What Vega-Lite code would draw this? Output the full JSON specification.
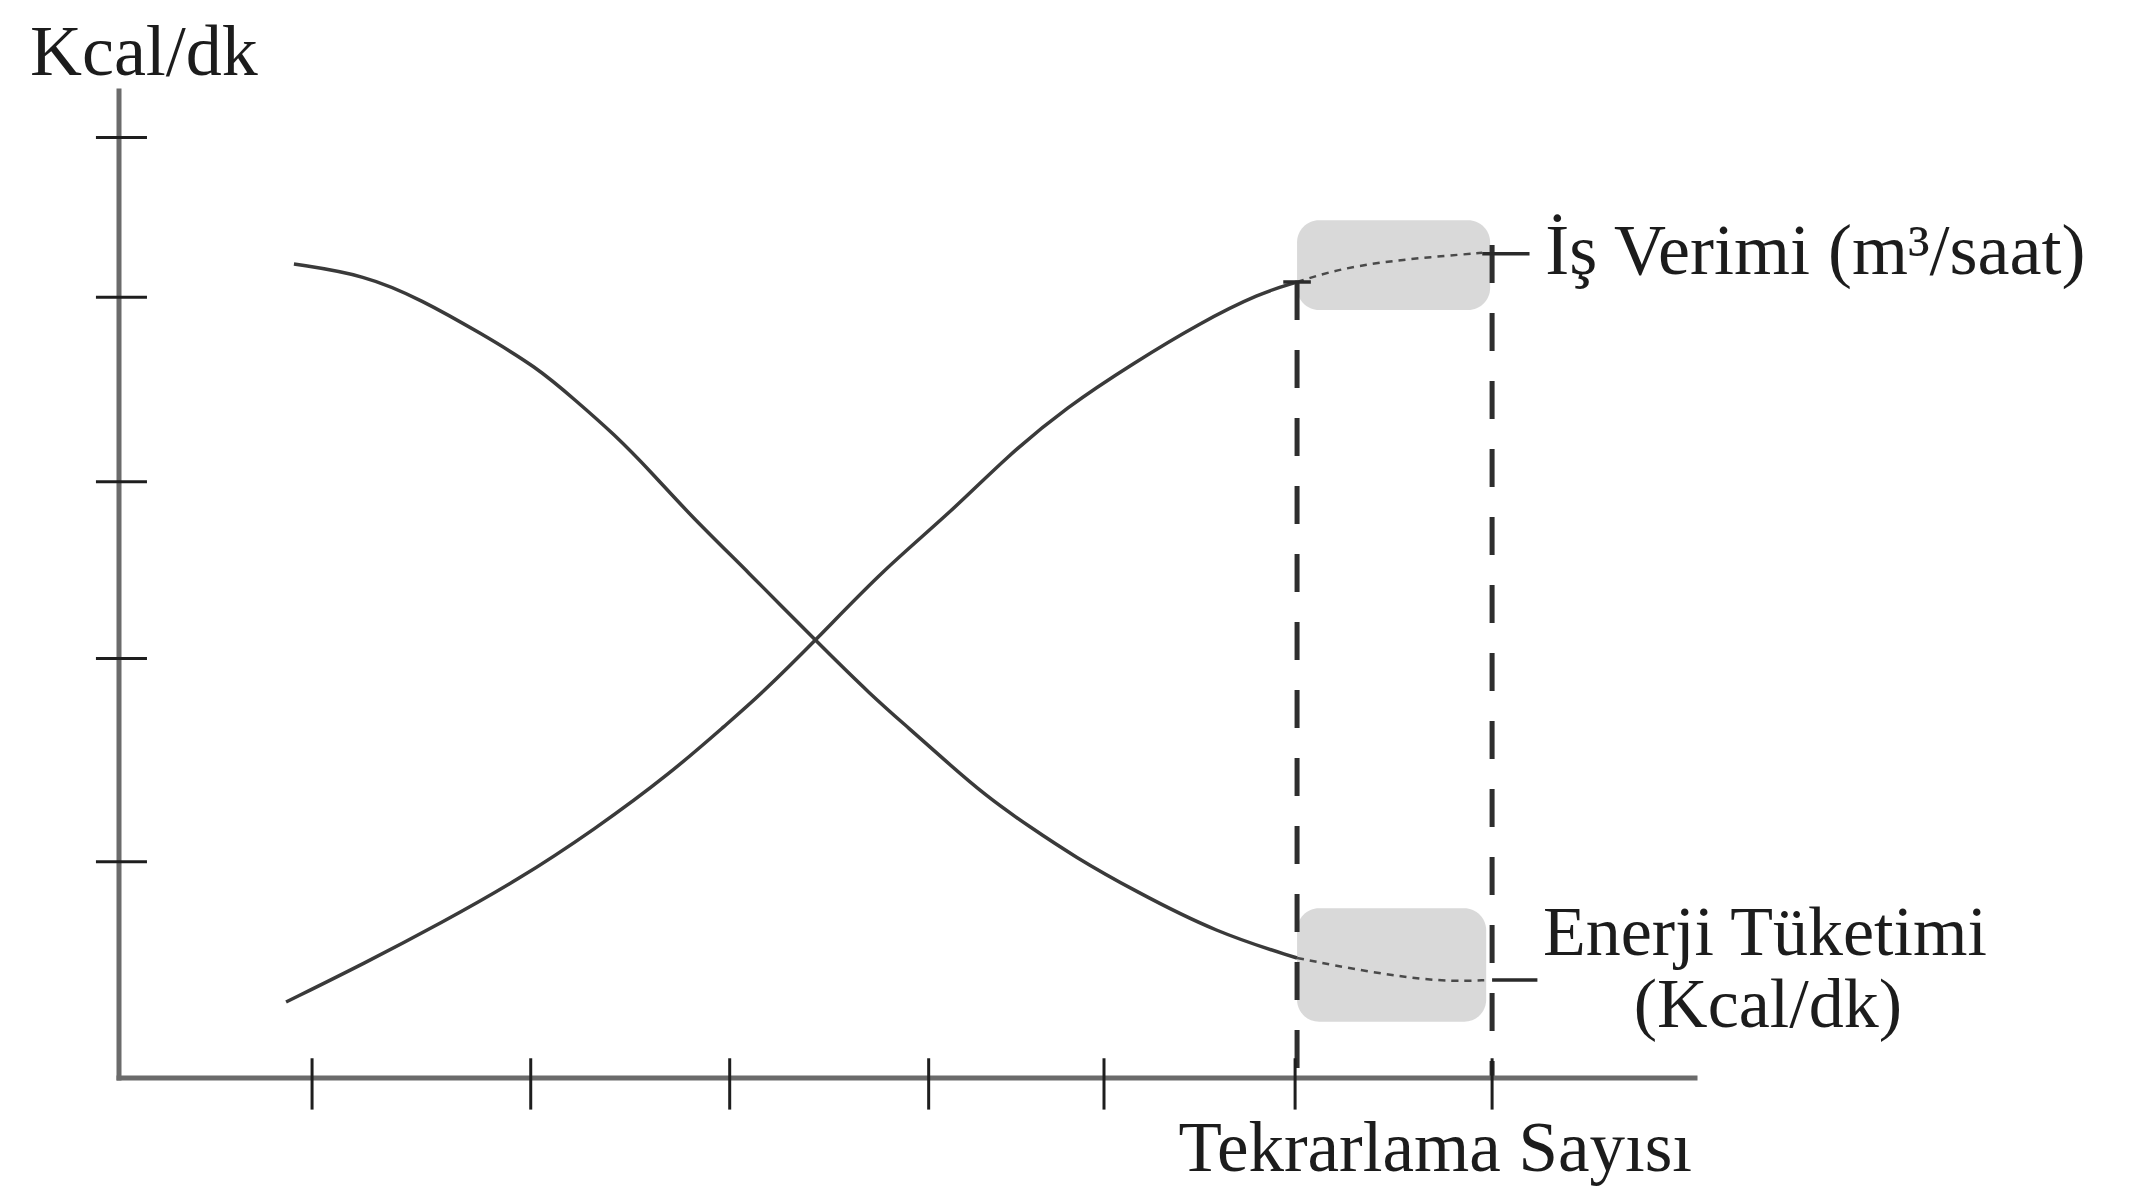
{
  "$schema": "https://vega.github.io/schema/vega-lite/v6.json",
  "width": 1576,
  "height": 987,
  "autosize": {"type": "none"},
  "padding": {"left": 119, "top": 91, "right": 453, "bottom": 113},
  "background": "white",
  "config": {"view": {"stroke": null}, "font": "Liberation Serif"},
  "datasets": {
    "curves": [
      {"series": "Enerji Tüketimi", "x": 0.888, "y": 8.247},
      {"series": "Enerji Tüketimi", "x": 1.249, "y": 8.136},
      {"series": "Enerji Tüketimi", "x": 1.538, "y": 7.882},
      {"series": "Enerji Tüketimi", "x": 1.832, "y": 7.55},
      {"series": "Enerji Tüketimi", "x": 2.122, "y": 7.2},
      {"series": "Enerji Tüketimi", "x": 2.315, "y": 6.869},
      {"series": "Enerji Tüketimi", "x": 2.513, "y": 6.525},
      {"series": "Enerji Tüketimi", "x": 2.706, "y": 6.13},
      {"series": "Enerji Tüketimi", "x": 2.898, "y": 5.704},
      {"series": "Enerji Tüketimi", "x": 3.193, "y": 5.127},
      {"series": "Enerji Tüketimi", "x": 3.528, "y": 4.448},
      {"series": "Enerji Tüketimi", "x": 3.822, "y": 3.87},
      {"series": "Enerji Tüketimi", "x": 4.02, "y": 3.526},
      {"series": "Enerji Tüketimi", "x": 4.173, "y": 3.252},
      {"series": "Enerji Tüketimi", "x": 4.406, "y": 2.847},
      {"series": "Enerji Tüketimi", "x": 4.619, "y": 2.55},
      {"series": "Enerji Tüketimi", "x": 4.853, "y": 2.239},
      {"series": "Enerji Tüketimi", "x": 5.147, "y": 1.905},
      {"series": "Enerji Tüketimi", "x": 5.574, "y": 1.469},
      {"series": "Enerji Tüketimi", "x": 5.98, "y": 1.216},
      {"series": "İş Verimi", "x": 0.848, "y": 0.77},
      {"series": "İş Verimi", "x": 1.249, "y": 1.165},
      {"series": "İş Verimi", "x": 1.635, "y": 1.57},
      {"series": "İş Verimi", "x": 2.025, "y": 2.006},
      {"series": "İş Verimi", "x": 2.411, "y": 2.513},
      {"series": "İş Verimi", "x": 2.802, "y": 3.09},
      {"series": "İş Verimi", "x": 3.091, "y": 3.597},
      {"series": "İş Verimi", "x": 3.249, "y": 3.87},
      {"series": "İş Verimi", "x": 3.543, "y": 4.448},
      {"series": "İş Verimi", "x": 3.878, "y": 5.147},
      {"series": "İş Verimi", "x": 4.218, "y": 5.724},
      {"series": "İş Verimi", "x": 4.508, "y": 6.3},
      {"series": "İş Verimi", "x": 4.812, "y": 6.8},
      {"series": "İş Verimi", "x": 5.147, "y": 7.24},
      {"series": "İş Verimi", "x": 5.487, "y": 7.65},
      {"series": "İş Verimi", "x": 5.792, "y": 7.953},
      {"series": "İş Verimi", "x": 5.98, "y": 8.065}
    ],
    "plateau": [
      {"series": "İş Verimi", "x": 5.98, "y": 8.065},
      {"series": "İş Verimi", "x": 6.18, "y": 8.19},
      {"series": "İş Verimi", "x": 6.42, "y": 8.27},
      {"series": "İş Verimi", "x": 6.67, "y": 8.32},
      {"series": "İş Verimi", "x": 6.92, "y": 8.36},
      {"series": "Enerji Tüketimi", "x": 5.98, "y": 1.216},
      {"series": "Enerji Tüketimi", "x": 6.34, "y": 1.074},
      {"series": "Enerji Tüketimi", "x": 6.71, "y": 0.973},
      {"series": "Enerji Tüketimi", "x": 6.96, "y": 0.993}
    ],
    "zones": [
      {"series": "İş Verimi", "x": 5.98, "x2": 6.96, "y": 8.69, "y2": 7.78},
      {"series": "Enerji Tüketimi", "x": 5.98, "x2": 6.94, "y": 1.72, "y2": 0.57}
    ],
    "bounds": [
      {"x": 5.98, "top": 8.065},
      {"x": 6.97, "top": 8.44}
    ],
    "leaders": [
      {"x": 6.92, "x2": 7.16, "y": 8.35},
      {"x": 6.97, "x2": 7.2, "y": 0.993},
      {"x": 5.91, "x2": 6.05, "y": 8.065}
    ],
    "xticks": [
      {"x": 0.98}, {"x": 2.09}, {"x": 3.1}, {"x": 4.11}, {"x": 5.0}, {"x": 5.97}, {"x": 6.97}
    ],
    "yticks": [
      {"y": 9.53}, {"y": 7.91}, {"y": 6.04}, {"y": 4.25}, {"y": 2.19}
    ],
    "labelsLeft": [
      {"text": "Kcal/dk", "x": -0.452, "y": 10.16},
      {"text": "İş Verimi (m³/saat)", "x": 7.24, "y": 8.146}
    ],
    "labelsCenter": [
      {"text": "Enerji Tüketimi", "x": 8.355, "y": 1.246},
      {"text": "(Kcal/dk)", "x": 8.37, "y": 0.517}
    ],
    "labelsRight": [
      {"text": "Tekrarlama Sayısı", "x": 7.985, "y": -0.942}
    ]
  },
  "layer": [
    {
      "data": {"name": "zones"},
      "mark": {"type": "rect", "fill": "#d2d2d2", "opacity": 0.85, "cornerRadius": 22},
      "encoding": {
        "x": {"field": "x", "type": "quantitative", "scale": {"domain": [0, 8], "nice": false, "zero": false}, "axis": null},
        "x2": {"field": "x2"},
        "y": {"field": "y", "type": "quantitative", "scale": {"domain": [0, 10], "nice": false, "zero": false}, "axis": null},
        "y2": {"field": "y2"}
      }
    },
    {
      "data": {"name": "plateau"},
      "mark": {"type": "line", "stroke": "#4a4a4a", "strokeWidth": 2.5, "strokeDash": [7, 6], "interpolate": "basis"},
      "encoding": {
        "x": {"field": "x", "type": "quantitative", "scale": {"domain": [0, 8], "nice": false, "zero": false}, "axis": null},
        "y": {"field": "y", "type": "quantitative", "scale": {"domain": [0, 10], "nice": false, "zero": false}, "axis": null},
        "detail": {"field": "series"}
      }
    },
    {
      "data": {"name": "bounds"},
      "mark": {"type": "rule", "stroke": "#2e2e2e", "strokeWidth": 5, "strokeDash": [38, 30]},
      "encoding": {
        "x": {"field": "x", "type": "quantitative", "scale": {"domain": [0, 8], "nice": false, "zero": false}, "axis": null},
        "y": {"field": "top", "type": "quantitative", "scale": {"domain": [0, 10], "nice": false, "zero": false}, "axis": null},
        "y2": {"datum": 0}
      }
    },
    {
      "data": {"name": "curves"},
      "mark": {"type": "line", "stroke": "#3a3a3a", "strokeWidth": 3.5, "interpolate": "basis"},
      "encoding": {
        "x": {"field": "x", "type": "quantitative", "scale": {"domain": [0, 8], "nice": false, "zero": false}, "axis": null},
        "y": {"field": "y", "type": "quantitative", "scale": {"domain": [0, 10], "nice": false, "zero": false}, "axis": null},
        "detail": {"field": "series"}
      }
    },
    {
      "data": {"name": "leaders"},
      "mark": {"type": "rule", "stroke": "#2a2a2a", "strokeWidth": 3.5},
      "encoding": {
        "x": {"field": "x", "type": "quantitative", "scale": {"domain": [0, 8], "nice": false, "zero": false}, "axis": null},
        "x2": {"field": "x2"},
        "y": {"field": "y", "type": "quantitative", "scale": {"domain": [0, 10], "nice": false, "zero": false}, "axis": null}
      }
    },
    {
      "data": {"values": [{"axis": "x"}]},
      "mark": {"type": "rule", "stroke": "#6b6b6b", "strokeWidth": 5, "strokeCap": "square"},
      "encoding": {
        "x": {"datum": 0, "type": "quantitative", "scale": {"domain": [0, 8], "nice": false, "zero": false}, "axis": null},
        "x2": {"datum": 8},
        "y": {"datum": 0, "type": "quantitative", "scale": {"domain": [0, 10], "nice": false, "zero": false}, "axis": null}
      }
    },
    {
      "data": {"values": [{"axis": "y"}]},
      "mark": {"type": "rule", "stroke": "#6b6b6b", "strokeWidth": 5, "strokeCap": "square"},
      "encoding": {
        "x": {"datum": 0, "type": "quantitative", "scale": {"domain": [0, 8], "nice": false, "zero": false}, "axis": null},
        "y": {"datum": 0, "type": "quantitative", "scale": {"domain": [0, 10], "nice": false, "zero": false}, "axis": null},
        "y2": {"datum": 10}
      }
    },
    {
      "data": {"name": "xticks"},
      "mark": {"type": "rule", "stroke": "#1e1e1e", "strokeWidth": 3},
      "encoding": {
        "x": {"field": "x", "type": "quantitative", "scale": {"domain": [0, 8], "nice": false, "zero": false}, "axis": null},
        "y": {"datum": 0.2, "type": "quantitative", "scale": {"domain": [0, 10], "nice": false, "zero": false}, "axis": null},
        "y2": {"datum": -0.32}
      }
    },
    {
      "data": {"name": "yticks"},
      "mark": {"type": "rule", "stroke": "#1e1e1e", "strokeWidth": 3},
      "encoding": {
        "x": {"datum": -0.117, "type": "quantitative", "scale": {"domain": [0, 8], "nice": false, "zero": false}, "axis": null},
        "x2": {"datum": 0.142},
        "y": {"field": "y", "type": "quantitative", "scale": {"domain": [0, 10], "nice": false, "zero": false}, "axis": null}
      }
    },
    {
      "data": {"name": "labelsLeft"},
      "mark": {"type": "text", "align": "left", "baseline": "alphabetic", "font": "Liberation Serif", "fontSize": 72, "fill": "#1c1c1c"},
      "encoding": {
        "x": {"field": "x", "type": "quantitative", "scale": {"domain": [0, 8], "nice": false, "zero": false}, "axis": null},
        "y": {"field": "y", "type": "quantitative", "scale": {"domain": [0, 10], "nice": false, "zero": false}, "axis": null},
        "text": {"field": "text"}
      }
    },
    {
      "data": {"name": "labelsCenter"},
      "mark": {"type": "text", "align": "center", "baseline": "alphabetic", "font": "Liberation Serif", "fontSize": 70, "fill": "#1c1c1c"},
      "encoding": {
        "x": {"field": "x", "type": "quantitative", "scale": {"domain": [0, 8], "nice": false, "zero": false}, "axis": null},
        "y": {"field": "y", "type": "quantitative", "scale": {"domain": [0, 10], "nice": false, "zero": false}, "axis": null},
        "text": {"field": "text"}
      }
    },
    {
      "data": {"name": "labelsRight"},
      "mark": {"type": "text", "align": "right", "baseline": "alphabetic", "font": "Liberation Serif", "fontSize": 71, "fill": "#1c1c1c"},
      "encoding": {
        "x": {"field": "x", "type": "quantitative", "scale": {"domain": [0, 8], "nice": false, "zero": false}, "axis": null},
        "y": {"field": "y", "type": "quantitative", "scale": {"domain": [0, 10], "nice": false, "zero": false}, "axis": null},
        "text": {"field": "text"}
      }
    }
  ]
}
